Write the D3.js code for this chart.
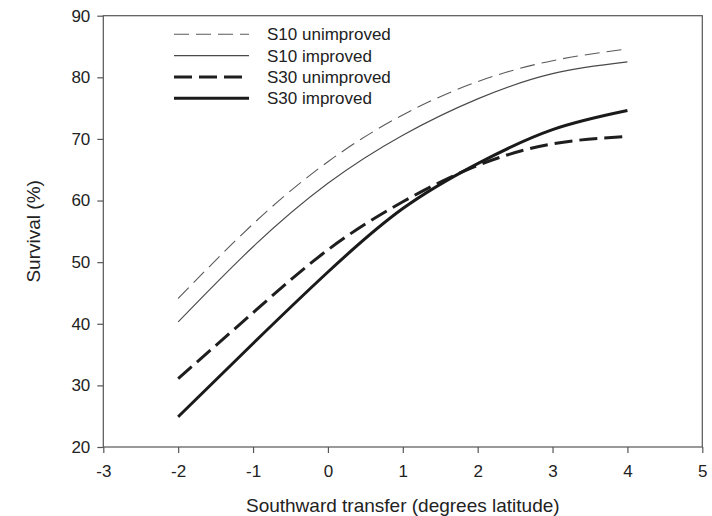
<!DOCTYPE html>
<html>
<head>
<meta charset="utf-8">
<script src="https://cdn.jsdelivr.net/npm/d3@7.9.0/dist/d3.min.js"></script>
<style>
  body { margin: 0; background: #fff; }
  svg { display: block; font-family: "Liberation Sans", Arial, sans-serif; }
</style>
</head>
<body>
<svg id="chart" width="712" height="516"></svg>
<script>
// transfer distance (degrees latitude)
const transfer = [-2, -1, 0, 1, 2, 3, 4];

// survival (%) per series
const s10Unimproved = [44.1, 56.2, 66.3, 73.9, 79.3, 82.7, 84.6];
const s10Improved   = [40.3, 52.5, 62.8, 70.6, 76.5, 80.6, 82.5];
const s30Unimproved = [31.1, 41.8, 52.0, 59.8, 65.7, 69.2, 70.4];
const s30Improved   = [24.9, 36.8, 48.4, 58.7, 66.0, 71.5, 74.6];

const seriesNames = ['S10 unimproved', 'S10 improved', 'S30 unimproved', 'S30 improved'];

const xTicks = [-3, -2, -1, 0, 1, 2, 3, 4, 5];
const yTicks = [20, 30, 40, 50, 60, 70, 80, 90];

const margin = { top: 15.7, right: 9.7, bottom: 69, left: 103.3 };
const width = 712, height = 516;

const svg = d3.select('#chart');

const x = d3.scaleLinear().domain([-3, 5]).range([margin.left, width - margin.right]);
const y = d3.scaleLinear().domain([20, 90]).range([height - margin.bottom, margin.top]);

// line styles for each series
const styles = [
  { color: '#5a5a5a', width: 1.1, dash: '15,7' },
  { color: '#4a4a4a', width: 1.1, dash: null },
  { color: '#1e1e1e', width: 3, dash: '18,7' },
  { color: '#1a1a1a', width: 3, dash: null }
];

const allSeries = [s10Unimproved, s10Improved, s30Unimproved, s30Improved];

// frame
svg.append('rect')
  .attr('x', x(-3)).attr('y', y(90))
  .attr('width', x(5) - x(-3)).attr('height', y(20) - y(90))
  .attr('fill', 'none').attr('stroke', '#555').attr('stroke-width', 1.2);

// axes (plain hyphen minus like the original)
const xAxis = svg.append('g')
  .attr('transform', `translate(0,${y(20)})`)
  .call(d3.axisBottom(x).tickValues(xTicks).tickSize(6).tickPadding(12).tickFormat(d => String(d)));
const yAxis = svg.append('g')
  .attr('transform', `translate(${x(-3)},0)`)
  .call(d3.axisLeft(y).tickValues(yTicks).tickSize(6).tickPadding(7).tickFormat(d => String(d)));

[xAxis, yAxis].forEach(a => {
  a.select('.domain').remove();
  a.selectAll('line').attr('stroke', '#555').attr('stroke-width', 1.2);
  a.selectAll('text')
    .attr('fill', '#222')
    .style('font-size', '17px')
    .style('font-family', '"Liberation Sans", Arial, sans-serif');
});

// curves
const line = d3.line()
  .x((d, i) => x(transfer[i]))
  .y(d => y(d))
  .curve(d3.curveNatural);

allSeries.forEach((vals, i) => {
  svg.append('path')
    .datum(vals)
    .attr('d', line)
    .attr('fill', 'none')
    .attr('stroke', styles[i].color)
    .attr('stroke-width', styles[i].width)
    .attr('stroke-dasharray', styles[i].dash);
});

// legend
const legend = svg.append('g');
seriesNames.forEach((name, i) => {
  const ly = 34.3 + i * 21.3;
  legend.append('line')
    .attr('x1', 174).attr('x2', 249)
    .attr('y1', ly).attr('y2', ly)
    .attr('stroke', styles[i].color)
    .attr('stroke-width', styles[i].width)
    .attr('stroke-dasharray', styles[i].dash);
  legend.append('text')
    .attr('x', 267).attr('y', ly + 6)
    .attr('fill', '#222')
    .style('font-size', '17px')
    .text(name);
});

// axis titles
svg.append('text')
  .attr('x', (x(-3) + x(5)) / 2)
  .attr('y', 512)
  .attr('text-anchor', 'middle')
  .attr('fill', '#222')
  .style('font-size', '19px')
  .text('Southward transfer (degrees latitude)');

svg.append('text')
  .attr('transform', `translate(40,${(y(20) + y(90)) / 2}) rotate(-90)`)
  .attr('text-anchor', 'middle')
  .attr('fill', '#222')
  .style('font-size', '19px')
  .text('Survival (%)');
</script>
</body>
</html>
